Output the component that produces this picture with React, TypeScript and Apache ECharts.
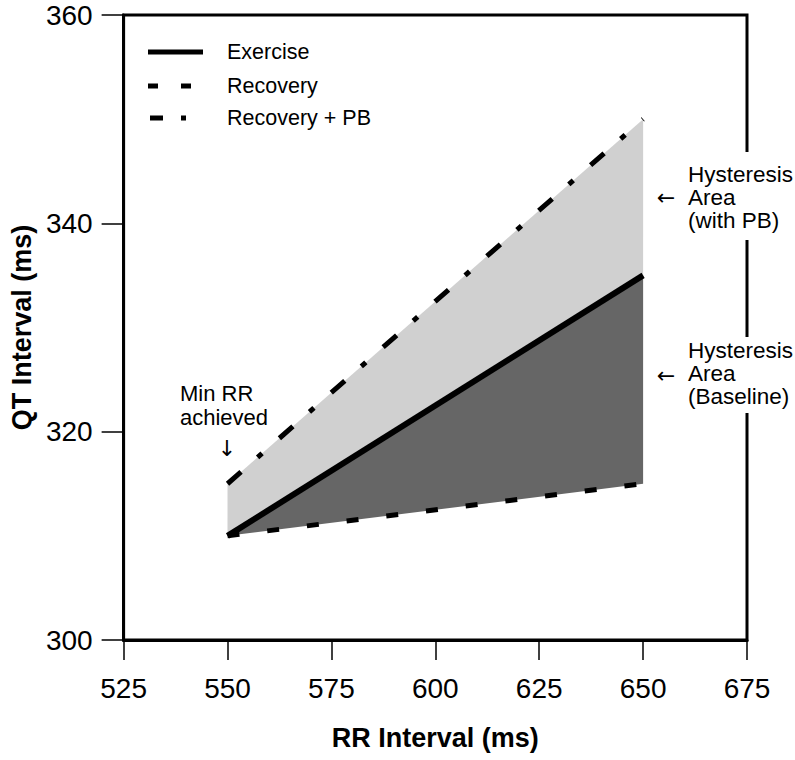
import React, { useEffect, useRef } from 'react';
import * as echarts from 'echarts';

// Data
const rrInterval = [550, 650];
const exerciseQT = [310, 335];
const recoveryQT = [310, 315];
const recoveryPbQT = [315, 350];
const seriesNames = ['Exercise', 'Recovery', 'Recovery + PB'];
const annotations = ['Hysteresis\nArea\n(with PB)', 'Hysteresis\nArea\n(Baseline)', 'Min RR\nachieved'];

const FONT = '"Liberation Sans", Arial, Helvetica, sans-serif';
const ARROW_FONT = '"DejaVu Sans", sans-serif';

function bandSeries(name: string, low: number[], high: number[], color: string) {
  return {
    name,
    type: 'custom',
    silent: true,
    z: 1,
    data: rrInterval.map((x, i) => [x, low[i], high[i]]),
    renderItem: (params: any, api: any) => {
      if (params.dataIndex !== 0) return null;
      const top = rrInterval.map((x, i) => api.coord([x, high[i]]));
      const bottom = rrInterval.map((x, i) => api.coord([x, low[i]])).reverse();
      return {
        type: 'polygon',
        shape: { points: top.concat(bottom) },
        style: { fill: color, stroke: 'none' },
      };
    },
  };
}

export default function App() {
  const ref = useRef<HTMLDivElement>(null);
  useEffect(() => {
    if (!ref.current) return;
    const chart = echarts.init(ref.current, undefined, { renderer: 'svg' });
    const pts = (ys: number[]) => rrInterval.map((x, i) => [x, ys[i]]);
    const option: any = {
      animation: false,
      backgroundColor: '#fff',
      textStyle: { fontFamily: FONT },
      grid: { left: 122, right: 48, top: 15, bottom: 120, show: true, borderColor: '#000', borderWidth: 3, backgroundColor: 'transparent' },
      xAxis: {
        type: 'value', min: 525, max: 675, interval: 25,
        name: 'RR Interval (ms)', nameLocation: 'middle', nameGap: 84,
        nameTextStyle: { fontSize: 27, fontWeight: 'bold', color: '#000', fontFamily: FONT },
        axisLine: { show: true, lineStyle: { color: '#000', width: 3 } },
        axisTick: { show: true, length: 20, lineStyle: { color: '#000', width: 1.5 } },
        axisLabel: { fontSize: 28, color: '#000', margin: 34, fontFamily: FONT },
        splitLine: { show: false },
      },
      yAxis: {
        type: 'value', min: 300, max: 360, interval: 20,
        name: 'QT Interval (ms)', nameLocation: 'middle', nameGap: 78,
        nameTextStyle: { fontSize: 27, fontWeight: 'bold', color: '#000', fontFamily: FONT },
        axisLine: { show: true, lineStyle: { color: '#000', width: 3 } },
        axisTick: { show: true, length: 22, lineStyle: { color: '#000', width: 1.5 } },
        axisLabel: { fontSize: 28, color: '#000', margin: 31, fontFamily: FONT },
        splitLine: { show: false },
      },
      series: [
        bandSeries('Hysteresis Area (Baseline)', recoveryQT, exerciseQT, '#666666'),
        bandSeries('Hysteresis Area (with PB)', exerciseQT, recoveryPbQT, '#d0d0d0'),
        { name: seriesNames[0], type: 'line', data: pts(exerciseQT), symbol: 'none', lineStyle: { color: '#000', width: 6, cap: 'butt' }, z: 5 },
        { name: seriesNames[1], type: 'line', data: pts(recoveryQT), symbol: 'none', lineStyle: { color: '#000', width: 5, type: [12, 28], cap: 'butt' }, z: 5 },
        { name: seriesNames[2], type: 'line', data: pts(recoveryPbQT), symbol: 'none', lineStyle: { color: '#000', width: 5, type: [18, 22, 6, 23], cap: 'butt' }, z: 5 },
      ],
      graphic: [
        { type: 'line', z: 100, shape: { x1: 148, y1: 52, x2: 203, y2: 52 }, style: { stroke: '#000', lineWidth: 5 } },
        { type: 'line', z: 100, shape: { x1: 148, y1: 86, x2: 191, y2: 86 }, style: { stroke: '#000', lineWidth: 5, lineDash: [10, 23] } },
        { type: 'line', z: 100, shape: { x1: 150, y1: 118, x2: 186, y2: 118 }, style: { stroke: '#000', lineWidth: 5, lineDash: [13, 18, 5, 100] } },
        { type: 'text', z: 100, x: 227, y: 52, style: { text: seriesNames[0], font: `21.5px ${FONT}`, fill: '#000', verticalAlign: 'middle' } },
        { type: 'text', z: 100, x: 227, y: 86, style: { text: seriesNames[1], font: `21.5px ${FONT}`, fill: '#000', verticalAlign: 'middle' } },
        { type: 'text', z: 100, x: 227, y: 118, style: { text: seriesNames[2], font: `21.5px ${FONT}`, fill: '#000', verticalAlign: 'middle' } },
        { type: 'text', z: 100, x: 684, y: 152, style: { text: annotations[0], font: `22.5px ${FONT}`, lineHeight: 23, fill: '#000', verticalAlign: 'top', backgroundColor: '#fff', padding: [11, 2, 8, 4] } },
        { type: 'text', z: 100, x: 684, y: 337, style: { text: annotations[1], font: `22.5px ${FONT}`, lineHeight: 23, fill: '#000', verticalAlign: 'top', backgroundColor: '#fff', padding: [2, 2, 5, 4] } },
        { type: 'text', z: 100, x: 666, y: 197, style: { text: '←', font: `22px ${ARROW_FONT}`, fill: '#000', align: 'center', verticalAlign: 'middle' } },
        { type: 'text', z: 100, x: 666, y: 375, style: { text: '←', font: `22px ${ARROW_FONT}`, fill: '#000', align: 'center', verticalAlign: 'middle' } },
        { type: 'text', z: 100, x: 180, y: 381, style: { text: annotations[2], font: `22px ${FONT}`, lineHeight: 24, fill: '#000', verticalAlign: 'top' } },
        { type: 'text', z: 100, x: 227, y: 448, style: { text: '↓', font: `22px ${ARROW_FONT}`, fill: '#000', align: 'center', verticalAlign: 'middle' } },
      ],
    };
    chart.setOption(option);
    return () => chart.dispose();
  }, []);
  return <div ref={ref} style={{ width: 795, height: 760, position: 'absolute', left: 0, top: 0, background: '#fff' }} />;
}
